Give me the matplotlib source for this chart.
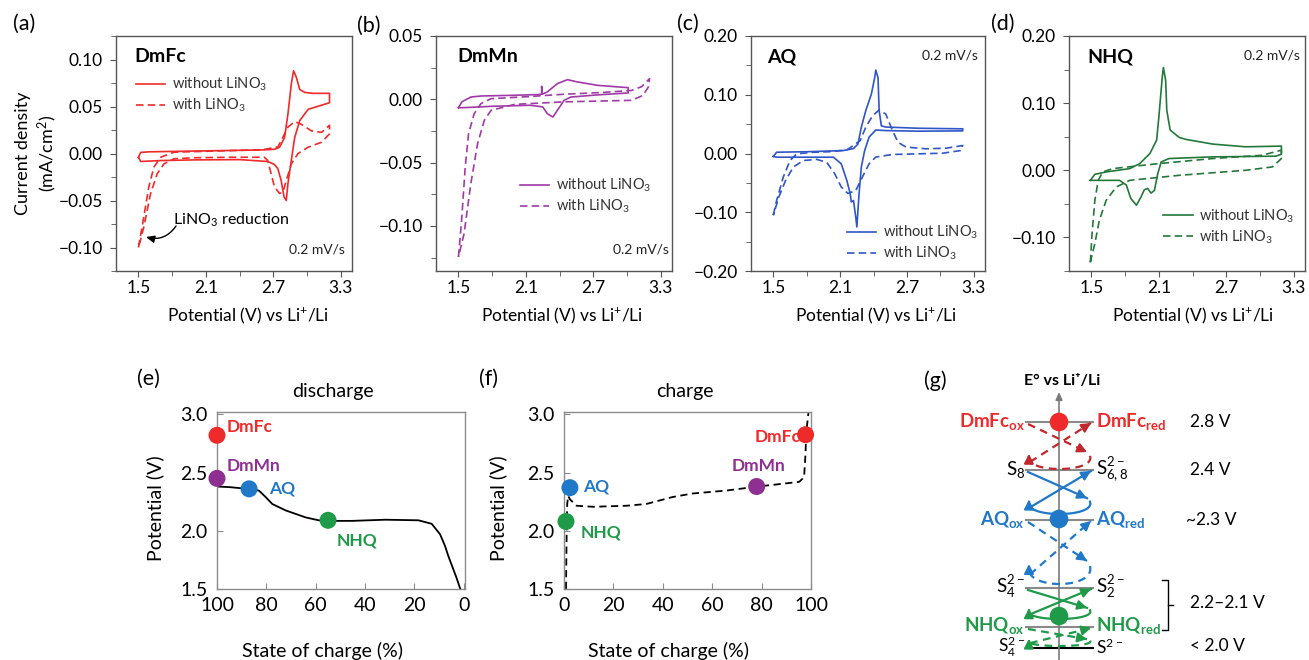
import numpy as np
import matplotlib
matplotlib.use('Agg')
import matplotlib.pyplot as plt
from matplotlib.ticker import MultipleLocator, FuncFormatter

plt.rcParams['font.family'] = ['Lato', 'DejaVu Sans']
plt.rcParams['mathtext.default'] = 'regular'

W, H = 1309, 660

RED = '#ee2a2a'
PURPLE = '#a03aa6'
BLUE = '#2f55c8'
GREEN = '#23783a'
DARKRED = '#c1272d'
LBLUE = '#1f78c8'
LGREEN = '#1e9a48'
LPURPLE = '#8e2f92'

# ---------------- CV data (potential V, current density mA/cm2) ----------------
# each loop: forward sweep to the right, then reverse sweep back to 1.5 V
a_solid_v = [1.50, 1.52, 1.60, 1.80, 2.00, 2.20, 2.40, 2.60, 2.71, 2.756, 2.80, 2.83, 2.86, 2.88, 2.905, 2.935, 2.98, 3.05, 3.12, 3.20,
             3.20, 3.01, 2.935, 2.89, 2.86, 2.83, 2.815, 2.795, 2.77, 2.74, 2.71, 2.65, 2.40, 2.00, 1.70, 1.52, 1.50]
a_solid_i = [-0.004, 0.0012, 0.0018, 0.0022, 0.0026, 0.003, 0.0034, 0.0038, 0.0045, 0.0067, 0.017, 0.042, 0.074, 0.088, 0.081, 0.068, 0.065, 0.064, 0.064, 0.064,
             0.054, 0.047, 0.035, 0.017, -0.0074, -0.032, -0.050, -0.046, -0.029, -0.016, -0.0117, -0.0085, -0.0065, -0.0068, -0.0075, -0.0085, -0.004]
a_dash_v = [1.50, 1.548, 1.592, 1.637, 1.697, 1.816, 2.0, 2.3, 2.6, 2.74, 2.77, 2.83, 2.89, 2.95, 3.04, 3.13, 3.20,
            3.20, 3.13, 3.01, 2.92, 2.86, 2.815, 2.785, 2.756, 2.71, 2.68, 2.65, 2.62, 2.3, 2.0, 1.816, 1.727, 1.667, 1.607, 1.548, 1.50]
a_dash_i = [-0.100, -0.067, -0.0355, -0.0145, -0.004, 0.0014, 0.002, 0.003, 0.004, 0.007, 0.0137, 0.028, 0.034, 0.031, 0.024, 0.0225, 0.030,
            0.021, 0.012, 0.0067, 0.0, -0.011, -0.029, -0.041, -0.0425, -0.0355, -0.0215, -0.0074, -0.004, -0.004, -0.0045, -0.0056, -0.011, -0.0215, -0.043, -0.078, -0.100]

b_solid_v = [1.50, 1.53, 1.61, 1.70, 2.00, 2.20, 2.24, 2.24, 2.245, 2.29, 2.38, 2.47, 2.56, 2.74, 3.01,
             3.01, 2.74, 2.50, 2.44, 2.38, 2.34, 2.29, 2.25, 2.14, 1.80, 1.55, 1.50]
b_solid_i = [-0.0066, -0.002, 0.0018, 0.0026, 0.0032, 0.0037, 0.004, 0.0103, 0.004, 0.0058, 0.0124, 0.0155, 0.0137, 0.011, 0.0092,
             0.005, 0.0035, 0.0018, -0.0008, -0.0087, -0.014, -0.0113, -0.006, -0.0047, -0.0055, -0.0066, -0.0066]
b_dash_v = [1.50, 1.53, 1.56, 1.59, 1.64, 1.70, 1.79, 2.10, 2.44, 2.80, 3.04, 3.13, 3.20,
            3.19, 3.14, 3.04, 2.44, 2.00, 1.79, 1.73, 1.67, 1.61, 1.55, 1.50]
b_dash_i = [-0.1245, -0.093, -0.0535, -0.027, -0.0113, -0.0034, 0.0005, 0.002, 0.004, 0.0055, 0.007, 0.010, 0.0163,
            0.0097, 0.003, -0.0008, -0.002, -0.004, -0.0087, -0.0166, -0.035, -0.0666, -0.106, -0.1245]

c_solid_v = [1.50, 1.53, 1.80, 2.13, 2.22, 2.26, 2.29, 2.33, 2.38, 2.41, 2.42, 2.44, 2.45, 2.47, 2.51, 2.80, 3.20,
             3.20, 2.80, 2.51, 2.42, 2.36, 2.32, 2.29, 2.27, 2.25, 2.24, 2.22, 2.20, 2.19, 2.16, 2.11, 2.04, 1.80, 1.53, 1.50]
c_solid_i = [-0.005, 0.0022, 0.003, 0.005, 0.0085, 0.016, 0.0446, 0.073, 0.101, 0.129, 0.142, 0.129, 0.073, 0.047, 0.045, 0.043, 0.042,
             0.0385, 0.038, 0.039, 0.040, 0.028, 0.005, -0.023, -0.068, -0.125, -0.108, -0.080, -0.0825, -0.068, -0.046, -0.0175, -0.0063, -0.0063, -0.0063, -0.005]
c_dash_v = [1.50, 1.53, 1.59, 1.65, 1.71, 1.85, 2.00, 2.16, 2.28, 2.33, 2.39, 2.45, 2.51, 2.57, 2.62, 2.69, 2.87, 3.05, 3.20,
            3.18, 3.02, 2.57, 2.42, 2.36, 2.30, 2.24, 2.17, 2.11, 2.05, 1.98, 1.89, 1.77, 1.68, 1.61, 1.55, 1.50]
c_dash_i = [-0.105, -0.080, -0.040, -0.012, -0.0006, 0.002, 0.003, 0.006, 0.022, 0.0446, 0.064, 0.074, 0.067, 0.039, 0.019, 0.011, 0.008, 0.009, 0.0136,
            0.005, 0.0005, -0.0017, -0.006, -0.0175, -0.040, -0.063, -0.068, -0.057, -0.034, -0.015, -0.010, -0.012, -0.023, -0.046, -0.074, -0.105]

d_solid_v = [1.49, 1.53, 1.63, 1.84, 1.93, 2.02, 2.08, 2.10, 2.13, 2.14, 2.16, 2.17, 2.20, 2.28, 2.34, 2.58, 2.87, 3.19,
             3.19, 3.14, 2.58, 2.19, 2.12, 2.09, 2.06, 2.03, 2.00, 1.97, 1.94, 1.90, 1.85, 1.81, 1.75, 1.52, 1.49]
d_solid_i = [-0.015, -0.006, -0.0025, 0.0025, 0.010, 0.025, 0.045, 0.080, 0.139, 0.153, 0.134, 0.0896, 0.060, 0.049, 0.046, 0.039, 0.035, 0.036,
             0.024, 0.021, 0.020, 0.0175, 0.0124, -0.005, -0.030, -0.034, -0.027, -0.029, -0.040, -0.052, -0.042, -0.022, -0.015, -0.015, -0.015]
d_dash_v = [1.49, 1.505, 1.53, 1.56, 1.60, 1.69, 2.10, 2.58, 3.02, 3.19,
            3.19, 3.11, 2.87, 2.28, 1.84, 1.72, 1.63, 1.57, 1.53, 1.49]
d_dash_i = [-0.137, -0.0945, -0.045, -0.015, -0.0025, 0.0025, 0.010, 0.0175, 0.0224, 0.030,
            0.0175, 0.005, 0.0, -0.0075, -0.015, -0.025, -0.045, -0.0746, -0.109, -0.137]

# ---------------- discharge / charge profiles ----------------
e_soc = [100, 95, 87.5, 83, 80.3, 77.6, 72.2, 64.1, 58.8, 55.6, 45.3, 31.8, 18.4, 13, 9.6, 7.6, 6.2, 3, 1.4]
e_pot = [2.38, 2.375, 2.36, 2.345, 2.29, 2.23, 2.175, 2.115, 2.09, 2.085, 2.085, 2.095, 2.09, 2.06, 1.97, 1.87, 1.78, 1.60, 1.50]
f_soc = [0.8, 1.1, 1.3, 1.7, 2.4, 5.1, 11.8, 25.3, 33.3, 44, 52, 65.6, 78.4, 87, 95.2, 97.2, 97.8, 98, 99]
f_pot = [1.50, 2.03, 2.23, 2.30, 2.27, 2.215, 2.206, 2.215, 2.23, 2.29, 2.32, 2.345, 2.38, 2.40, 2.42, 2.46, 2.67, 2.83, 3.02]

mediators = ['DmFc', 'DmMn', 'AQ', 'NHQ']
med_colors = [RED, LPURPLE, LBLUE, LGREEN]
e_dot_soc = [100, 100, 87, 55]
e_dot_pot = [2.82, 2.45, 2.36, 2.09]
f_dot_soc = [97.8, 78, 2.4, 0.8]
f_dot_pot = [2.825, 2.38, 2.37, 2.08]

# ---------------- schematic (g) ----------------
g_level_y = [422, 470, 520, 588, 627, 648]
g_left = ['DmFc$_{ox}$', '$S_8$', 'AQ$_{ox}$', '$S_4^{2-}$', 'NHQ$_{ox}$', '$S_4^{2-}$']
g_right = ['DmFc$_{red}$', '$S_{6,8}^{2-}$', 'AQ$_{red}$', '$S_2^{2-}$', 'NHQ$_{red}$', '$S^{2-}$']
g_text_colors = [RED, 'k', LBLUE, 'k', LGREEN, 'k']
g_pot_text = ['2.8 V', '2.4 V', '~2.3 V', '2.2\u20132.1 V', '< 2.0 V']
g_pot_y = [422, 470, 520, 603, 646]
g_dot_y = [422, 519, 616]
g_dot_colors = [RED, LBLUE, LGREEN]
g_loop_top = [422, 470, 520, 588, 627]
g_loop_bot = [469, 514, 584, 619, 646]
g_loop_colors = [DARKRED, LBLUE, LBLUE, LGREEN, LGREEN]
g_loop_styles = ['--', '-', '--', '-', '--']

fig = plt.figure(figsize=(W / 100, H / 100), dpi=100)


def px_axes(x0, y0, x1, y1):
    return fig.add_axes([x0 / W, 1 - y1 / H, (x1 - x0) / W, (y1 - y0) / H])


def fmt2(v, p):
    s = '%.2f' % v
    if s == '-0.00':
        s = '0.00'
    return s.replace('-', '\u2212')


def cv_panel(box, color, sv, si, dv, di, ylim, ymaj, ymin, leg_xy):
    ax = px_axes(*box)
    ax.plot(sv, si, color=color, lw=1.2, label='without LiNO$_3$')
    ax.plot(dv, di, color=color, lw=1.2, ls=(0, (4.5, 2.5)), label='with LiNO$_3$')
    ax.set_xlim(1.30, 3.40)
    ax.set_ylim(*ylim)
    ax.xaxis.set_major_locator(MultipleLocator(0.6))
    ax.xaxis.set_minor_locator(MultipleLocator(0.3))
    ax.yaxis.set_major_locator(MultipleLocator(ymaj))
    ax.yaxis.set_minor_locator(MultipleLocator(ymin))
    ax.xaxis.set_major_formatter(FuncFormatter(lambda v, p: '%.1f' % v))
    ax.yaxis.set_major_formatter(FuncFormatter(fmt2))
    ax.set_xticks([1.5, 2.1, 2.7, 3.3])
    for s in ax.spines.values():
        s.set_color('#555555')
        s.set_linewidth(1.0)
    ax.tick_params(which='both', direction='out', colors='#555555', labelcolor='k', labelsize=12.5)
    ax.tick_params(which='major', length=4.5, pad=2)
    ax.tick_params(which='minor', length=3.5)
    ax.tick_params(axis='y', which='major', pad=5)
    ax.legend(loc='upper left', bbox_to_anchor=leg_xy, frameon=False, fontsize=10.5,
              handlelength=2.0, handletextpad=0.45, labelspacing=0.25, borderpad=0, borderaxespad=0,
              labelcolor='#333333')
    return ax


ax_a = cv_panel((116, 36, 352, 271), RED, a_solid_v, a_solid_i, a_dash_v, a_dash_i,
                (-0.125, 0.125), 0.05, 0.025, (0.085, 0.83))
ax_b = cv_panel((436, 36, 672, 271), PURPLE, b_solid_v, b_solid_i, b_dash_v, b_dash_i,
                (-0.1356, 0.05), 0.05, 0.025, (0.355, 0.40))
ax_c = cv_panel((751, 36, 985, 271), BLUE, c_solid_v, c_solid_i, c_dash_v, c_dash_i,
                (-0.2, 0.2), 0.1, 0.05, (0.41, 0.20))
ax_d = cv_panel((1069, 36, 1305, 271), GREEN, d_solid_v, d_solid_i, d_dash_v, d_dash_i,
                (-0.15, 0.2), 0.1, 0.05, (0.40, 0.27))


def soc_panel(box, soc, pot, xlim, ls, dsoc, dpot):
    ax = px_axes(*box)
    ax.plot(soc, pot, color='k', lw=1.3, ls=ls)
    ax.scatter(dsoc, dpot, s=150, c=med_colors, zorder=5, clip_on=False, edgecolors='none')
    ax.set_xlim(*xlim)
    ax.set_ylim(1.5, 3.02)
    ax.set_xticks([0, 20, 40, 60, 80, 100])
    ax.set_yticks([1.5, 2.0, 2.5, 3.0])
    for s in ax.spines.values():
        s.set_color('#8c8c8c')
        s.set_linewidth(1.0)
    ax.tick_params(direction='in', length=4, colors='#8c8c8c', labelcolor='k', labelsize=14)
    ax.tick_params(axis='x', pad=6)
    ax.tick_params(axis='y', pad=7)
    return ax


ax_e = soc_panel((217, 412, 465, 589), e_soc, e_pot, (100, -0.5), '-', e_dot_soc, e_dot_pot)
ax_f = soc_panel((564, 412, 811, 589), f_soc, f_pot, (0, 100), (0, (4, 2.5)), f_dot_soc, f_dot_pot)

# overlay in pixel coordinates for texts and schematic
ov = fig.add_axes([0, 0, 1, 1])
ov.set_xlim(0, W)
ov.set_ylim(H, 0)
ov.axis('off')
ov.patch.set_visible(False)


def t(x, y, s, **kw):
    kw.setdefault('ha', 'center')
    kw.setdefault('va', 'center')
    ov.text(x, y, s, **kw)


# panel letters
for s, x, y in [('(a)', 24, 24), ('(b)', 369, 26), ('(c)', 688, 24), ('(d)', 1003, 24),
                ('(e)', 148, 379), ('(f)', 489, 379), ('(g)', 935, 381)]:
    t(x, y, s, fontsize=15.5)

# CV texts
t(37, 153, 'Current density\n(mA/cm$^2$)', fontsize=13, rotation=90, linespacing=1.25)
for cx in [248, 562, 876, 1193]:
    t(cx, 316, 'Potential (V) vs Li$^{+}$/Li', fontsize=12.5)
for s, x in [('DmFc', 134), ('DmMn', 457), ('AQ', 767), ('NHQ', 1087)]:
    t(x, 57, s, fontsize=14, fontweight='bold', ha='left')
for x, y in [(345, 249), (669, 250), (978, 55), (1300, 55)]:
    t(x, y, '0.2 mV/s', fontsize=10, ha='right', color='#222222')
t(173, 220, 'LiNO$_3$ reduction', fontsize=11.5, ha='left')
ov.annotate('', xy=(146, 237), xytext=(176, 226),
            arrowprops=dict(arrowstyle='-|>,head_length=0.5,head_width=0.22', color='k', lw=1.0,
                            connectionstyle='arc3,rad=-0.35', shrinkA=0, shrinkB=0))

# discharge / charge texts
t(333, 392, 'discharge', fontsize=14)
t(685, 392, 'charge', fontsize=14)
t(323, 651, 'State of charge (%)', fontsize=14)
t(668, 651, 'State of charge (%)', fontsize=14)
t(155, 508, 'Potential (V)', fontsize=14, rotation=90)
t(498, 508, 'Potential (V)', fontsize=14, rotation=90)

e_lab_xy = [(227, 427), (227, 466), (269, 488), (337, 540)]
f_lab_xy = [(801, 437), (732, 466), (583, 487), (581, 532)]
f_lab_ha = ['right', 'left', 'left', 'left']
for i, name in enumerate(mediators):
    t(e_lab_xy[i][0], e_lab_xy[i][1], name, fontsize=12.5, fontweight='bold', color=med_colors[i], ha='left')
    t(f_lab_xy[i][0], f_lab_xy[i][1], name, fontsize=12.5, fontweight='bold', color=med_colors[i], ha=f_lab_ha[i])

# ---------------- schematic (g) ----------------
gx = 1059
xl, xr = 1026, 1093
t(1062, 381, 'E\u00b0 vs Li\u207a/Li', fontsize=11.5, fontweight='bold')
ov.annotate('', xy=(gx, 392), xytext=(gx, 660),
            arrowprops=dict(arrowstyle='-|>,head_length=0.45,head_width=0.2', color='#7a7a7a', lw=1.2,
                            shrinkA=0, shrinkB=0))
for i, y in enumerate(g_level_y):
    lc = 'k' if i == len(g_level_y) - 1 else '#8a8a8a'
    ov.plot([xl, xr], [y, y], color=lc, lw=1.5, zorder=2)
    fs = 12.5 if i == len(g_level_y) - 1 else 13.5
    t(xl - 1, y - 1, g_left[i], fontsize=fs, color=g_text_colors[i], ha='right',
      fontweight='bold' if g_text_colors[i] != 'k' else 'normal')
    t(xr + 3, y - 1, g_right[i], fontsize=fs, color=g_text_colors[i], ha='left',
      fontweight='bold' if g_text_colors[i] != 'k' else 'normal')
ov.scatter([gx] * len(g_dot_y), g_dot_y, s=180, c=g_dot_colors, zorder=6, edgecolors='none')
for s, y in zip(g_pot_text, g_pot_y):
    t(1190 if not s.startswith('~') else 1186, y, s, fontsize=12.5, ha='left')
# bracket
ov.plot([1162, 1168, 1168, 1162], [580, 580, 630, 630], color='k', lw=1.0)
ov.plot([1168, 1173], [605, 605], color='k', lw=1.0)


def head(x0, y0, x1, y1, c):
    ov.annotate('', xy=(x1, y1), xytext=(x0, y0),
                arrowprops=dict(arrowstyle='-|>,head_length=0.55,head_width=0.28', color=c, lw=1.5,
                                shrinkA=0, shrinkB=0), zorder=4)


tt = np.linspace(0, 1, 40)
for ya, yb, c, ls in zip(g_loop_top, g_loop_bot, g_loop_colors, g_loop_styles):
    h = yb - ya
    dash = (0, (3.5, 2.5)) if ls == '--' else '-'
    # down-right stroke
    p0 = np.array([xl + 2, ya + 2])
    p1 = np.array([xr - 6, ya + 0.64 * h])
    ov.plot([p0[0], p1[0]], [p0[1], p1[1]], color=c, lw=1.6, ls=dash, zorder=3)
    d = (p1 - p0) / np.hypot(*(p1 - p0))
    head(p1[0] - 6 * d[0], p1[1] - 6 * d[1], p1[0], p1[1], c)
    # bottom loop (right -> bottom -> left)
    ym = ya + 0.72 * h
    cy = ym + (yb - ym) / 0.75
    P = np.array([[xr - 3, ym], [xr + 3, cy], [xl - 3, cy], [xl + 3, ym]])
    bz = ((1 - tt) ** 3)[:, None] * P[0] + (3 * (1 - tt) ** 2 * tt)[:, None] * P[1] + \
         (3 * (1 - tt) * tt ** 2)[:, None] * P[2] + (tt ** 3)[:, None] * P[3]
    ov.plot(bz[:, 0], bz[:, 1], color=c, lw=1.6, ls=dash, zorder=3)
    head(bz[-4, 0], bz[-4, 1], bz[-1, 0], bz[-1, 1] - 2, c)
    # up-right stroke
    q0 = np.array([xl + 4, ya + 0.85 * h])
    q1 = np.array([xr - 2, ya + 1])
    ov.plot([q0[0], q1[0]], [q0[1], q1[1]], color=c, lw=1.6, ls=dash, zorder=3)
    d = (q1 - q0) / np.hypot(*(q1 - q0))
    head(q1[0] - 6 * d[0], q1[1] - 6 * d[1], q1[0], q1[1], c)

fig.savefig('out.png', dpi=100)
